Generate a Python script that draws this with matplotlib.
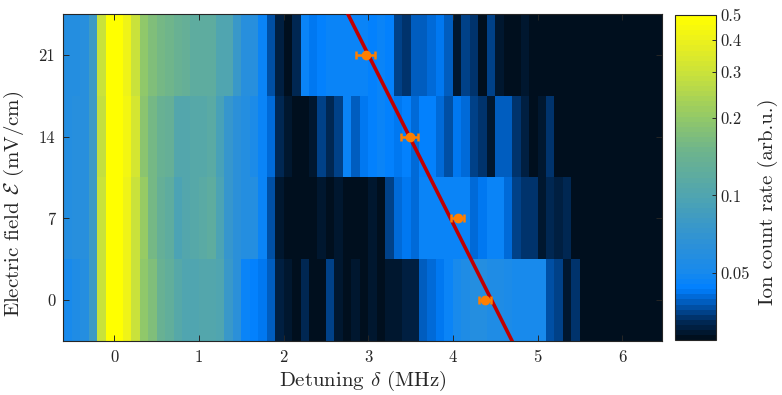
import numpy as np
import matplotlib
matplotlib.use("Agg")
import matplotlib.pyplot as plt
from matplotlib.colors import LinearSegmentedColormap, ListedColormap, LogNorm

plt.rcParams["font.family"] = ["cmr10"]
plt.rcParams["mathtext.fontset"] = "cm"
plt.rcParams["axes.formatter.use_mathtext"] = True

# Detuning grid (MHz): column edges, 0.1 MHz wide
det_edges = np.round(np.arange(-0.6, 6.5001, 0.1), 3)

# Electric field rows (mV/cm)
fields = [0, 7, 14, 21]
field_halfwidth = 3.5

# Ion count rate (arb.u.) per detuning column, one list per field
rate_0 = [0.05, 0.056, 0.058, 0.08, 0.3, 0.5, 0.5, 0.4, 0.3, 0.2,
          0.17, 0.14, 0.125, 0.11, 0.1, 0.1, 0.105, 0.105, 0.1, 0.075,
          0.063, 0.047, 0.045, 0.042, 0.039, 0.031, 0.029, 0.0275, 0.032, 0.028,
          0.028, 0.035, 0.029, 0.028, 0.030, 0.0275, 0.030, 0.0275, 0.029, 0.030,
          0.031, 0.031, 0.038, 0.041, 0.042, 0.046, 0.05, 0.056, 0.058, 0.058,
          0.055, 0.055, 0.054, 0.05, 0.05, 0.05, 0.05, 0.037, 0.035, 0.029,
          0.033] + [0.0275] * 10
rate_7 = [0.058, 0.06, 0.062, 0.08, 0.3, 0.5, 0.5, 0.4, 0.3, 0.21,
          0.16, 0.13, 0.12, 0.095, 0.105, 0.11, 0.115, 0.12, 0.095, 0.072,
          0.063, 0.058, 0.057, 0.046, 0.037, 0.030, 0.0275, 0.0275, 0.028, 0.028,
          0.029, 0.0275, 0.029, 0.028, 0.0275, 0.028, 0.029, 0.028, 0.035, 0.040,
          0.043, 0.041, 0.046, 0.046, 0.046, 0.047, 0.047, 0.047, 0.041, 0.043,
          0.046, 0.046, 0.040, 0.036, 0.034, 0.033, 0.029, 0.032, 0.031, 0.032] + [0.0275] * 11
rate_14 = [0.058, 0.06, 0.06, 0.08, 0.28, 0.5, 0.5, 0.42, 0.32, 0.19,
           0.16, 0.135, 0.13, 0.105, 0.105, 0.11, 0.11, 0.115, 0.09, 0.072,
           0.065, 0.058, 0.052, 0.046, 0.041, 0.032, 0.029, 0.028, 0.0275, 0.029,
           0.035, 0.032, 0.035, 0.046, 0.038, 0.043, 0.045, 0.046, 0.045, 0.043,
           0.045, 0.040, 0.045, 0.045, 0.040, 0.037, 0.042, 0.041, 0.036, 0.033,
           0.030, 0.039, 0.038, 0.033, 0.031, 0.028, 0.030, 0.033] + [0.0275] * 13
rate_21 = [0.058, 0.058, 0.06, 0.08, 0.3, 0.5, 0.5, 0.4, 0.3, 0.2,
           0.17, 0.16, 0.15, 0.14, 0.13, 0.12, 0.12, 0.12, 0.1, 0.1,
           0.075, 0.062, 0.062, 0.046, 0.037, 0.031, 0.0275, 0.032, 0.046, 0.042,
           0.044, 0.047, 0.047, 0.047, 0.047, 0.047, 0.045, 0.046, 0.045, 0.036,
           0.034, 0.038, 0.038, 0.040, 0.042, 0.039, 0.030, 0.036, 0.034, 0.028,
           0.035, 0.030, 0.0275, 0.0275, 0.030] + [0.0275] * 16
rates = [rate_0, rate_7, rate_14, rate_21]

# Fitted line centres with horizontal uncertainties
peak_field = [0, 7, 14, 21]
peak_det = [4.38, 4.055, 3.49, 2.97]
peak_err = [0.07, 0.08, 0.10, 0.11]

# Linear Stark shift fit: delta = offset + slope * E
fit_offset = 4.457
fit_slope = -0.0693

x_ticks = [0, 1, 2, 3, 4, 5, 6]
y_ticks = [0, 7, 14, 21]
cbar_ticks = [0.05, 0.1, 0.2, 0.3, 0.4, 0.5]
cbar_min, cbar_max = 0.0275, 0.5

# Colour map: dark navy ramp into blue, then blue -> teal -> green -> yellow
anchors = [
    (0.00, (0, 15, 30)),
    (0.05, (0, 40, 85)),
    (0.10, (0, 84, 175)),
    (0.15, (0, 128, 255)),
    (0.206, (25, 138, 235)),
    (0.297, (45, 145, 215)),
    (0.445, (80, 165, 175)),
    (0.585, (110, 180, 140)),
    (0.684, (145, 200, 105)),
    (0.824, (200, 225, 60)),
    (0.923, (235, 240, 30)),
    (1.00, (255, 255, 0)),
]
smooth = LinearSegmentedColormap.from_list(
    "ioncmap", [(t, tuple(c / 255 for c in rgb)) for t, rgb in anchors])
cmap = ListedColormap(smooth(np.linspace(0, 1, 64)))
norm = LogNorm(vmin=cbar_min, vmax=cbar_max)

fig = plt.figure(figsize=(7.82, 3.95), dpi=100)
ax = fig.add_axes([0.0812, 0.1367, 0.7653, 0.8279])
cax = fig.add_axes([0.863, 0.139, 0.0524, 0.823])

for f, r in zip(fields, rates):
    vals = np.clip(np.array(r, dtype=float), cbar_min, cbar_max)
    mesh = ax.pcolormesh(det_edges, [f - field_halfwidth, f + field_halfwidth],
                         vals[None, :], cmap=cmap, norm=norm, shading="flat")

e_line = np.array([fields[0] - field_halfwidth, fields[-1] + field_halfwidth])
ax.plot(fit_offset + fit_slope * e_line, e_line, color="#c00000", lw=2.6, zorder=3)

ax.errorbar(peak_det, peak_field, xerr=peak_err, fmt="o", color="#ff7f00",
            ms=6, elinewidth=1.8, capsize=3, capthick=1.8, zorder=4)

ax.set_xlim(det_edges[0], det_edges[-1] - 0.03)
ax.set_ylim(fields[0] - field_halfwidth, fields[-1] + field_halfwidth)
ax.set_xticks(x_ticks)
ax.set_xticklabels([str(t) for t in x_ticks])
ax.set_yticks(y_ticks)
ax.set_yticklabels([str(t) for t in y_ticks])
ax.tick_params(direction="in", top=True, right=True, length=4, width=0.7,
               color="#262626", labelsize=12, labelcolor="#262626", pad=6)
for s in ax.spines.values():
    s.set_color("#262626")
    s.set_linewidth(0.8)
ax.set_xlabel(r"Detuning $\delta$ (MHz)", fontsize=15, color="#262626", labelpad=3)
ax.set_ylabel(r"Electric field $\mathcal{E}$ (mV/cm)", fontsize=15, color="#262626")
ax.yaxis.set_label_coords(-0.062, 0.42)

cb = fig.colorbar(mesh, cax=cax)
cb.set_ticks(cbar_ticks)
cb.set_ticklabels([f"{t:g}" for t in cbar_ticks])
cb.minorticks_off()
cax.tick_params(direction="in", length=3, width=0.7, color="#262626",
                labelsize=12, labelcolor="#262626", pad=3)
cb.outline.set_edgecolor("#262626")
cb.outline.set_linewidth(0.8)
cb.set_label("Ion count rate (arb.u.)", fontsize=15, color="#262626")
cax.yaxis.set_label_coords(2.02, 0.425)

fig.savefig("out.png", dpi=100)
